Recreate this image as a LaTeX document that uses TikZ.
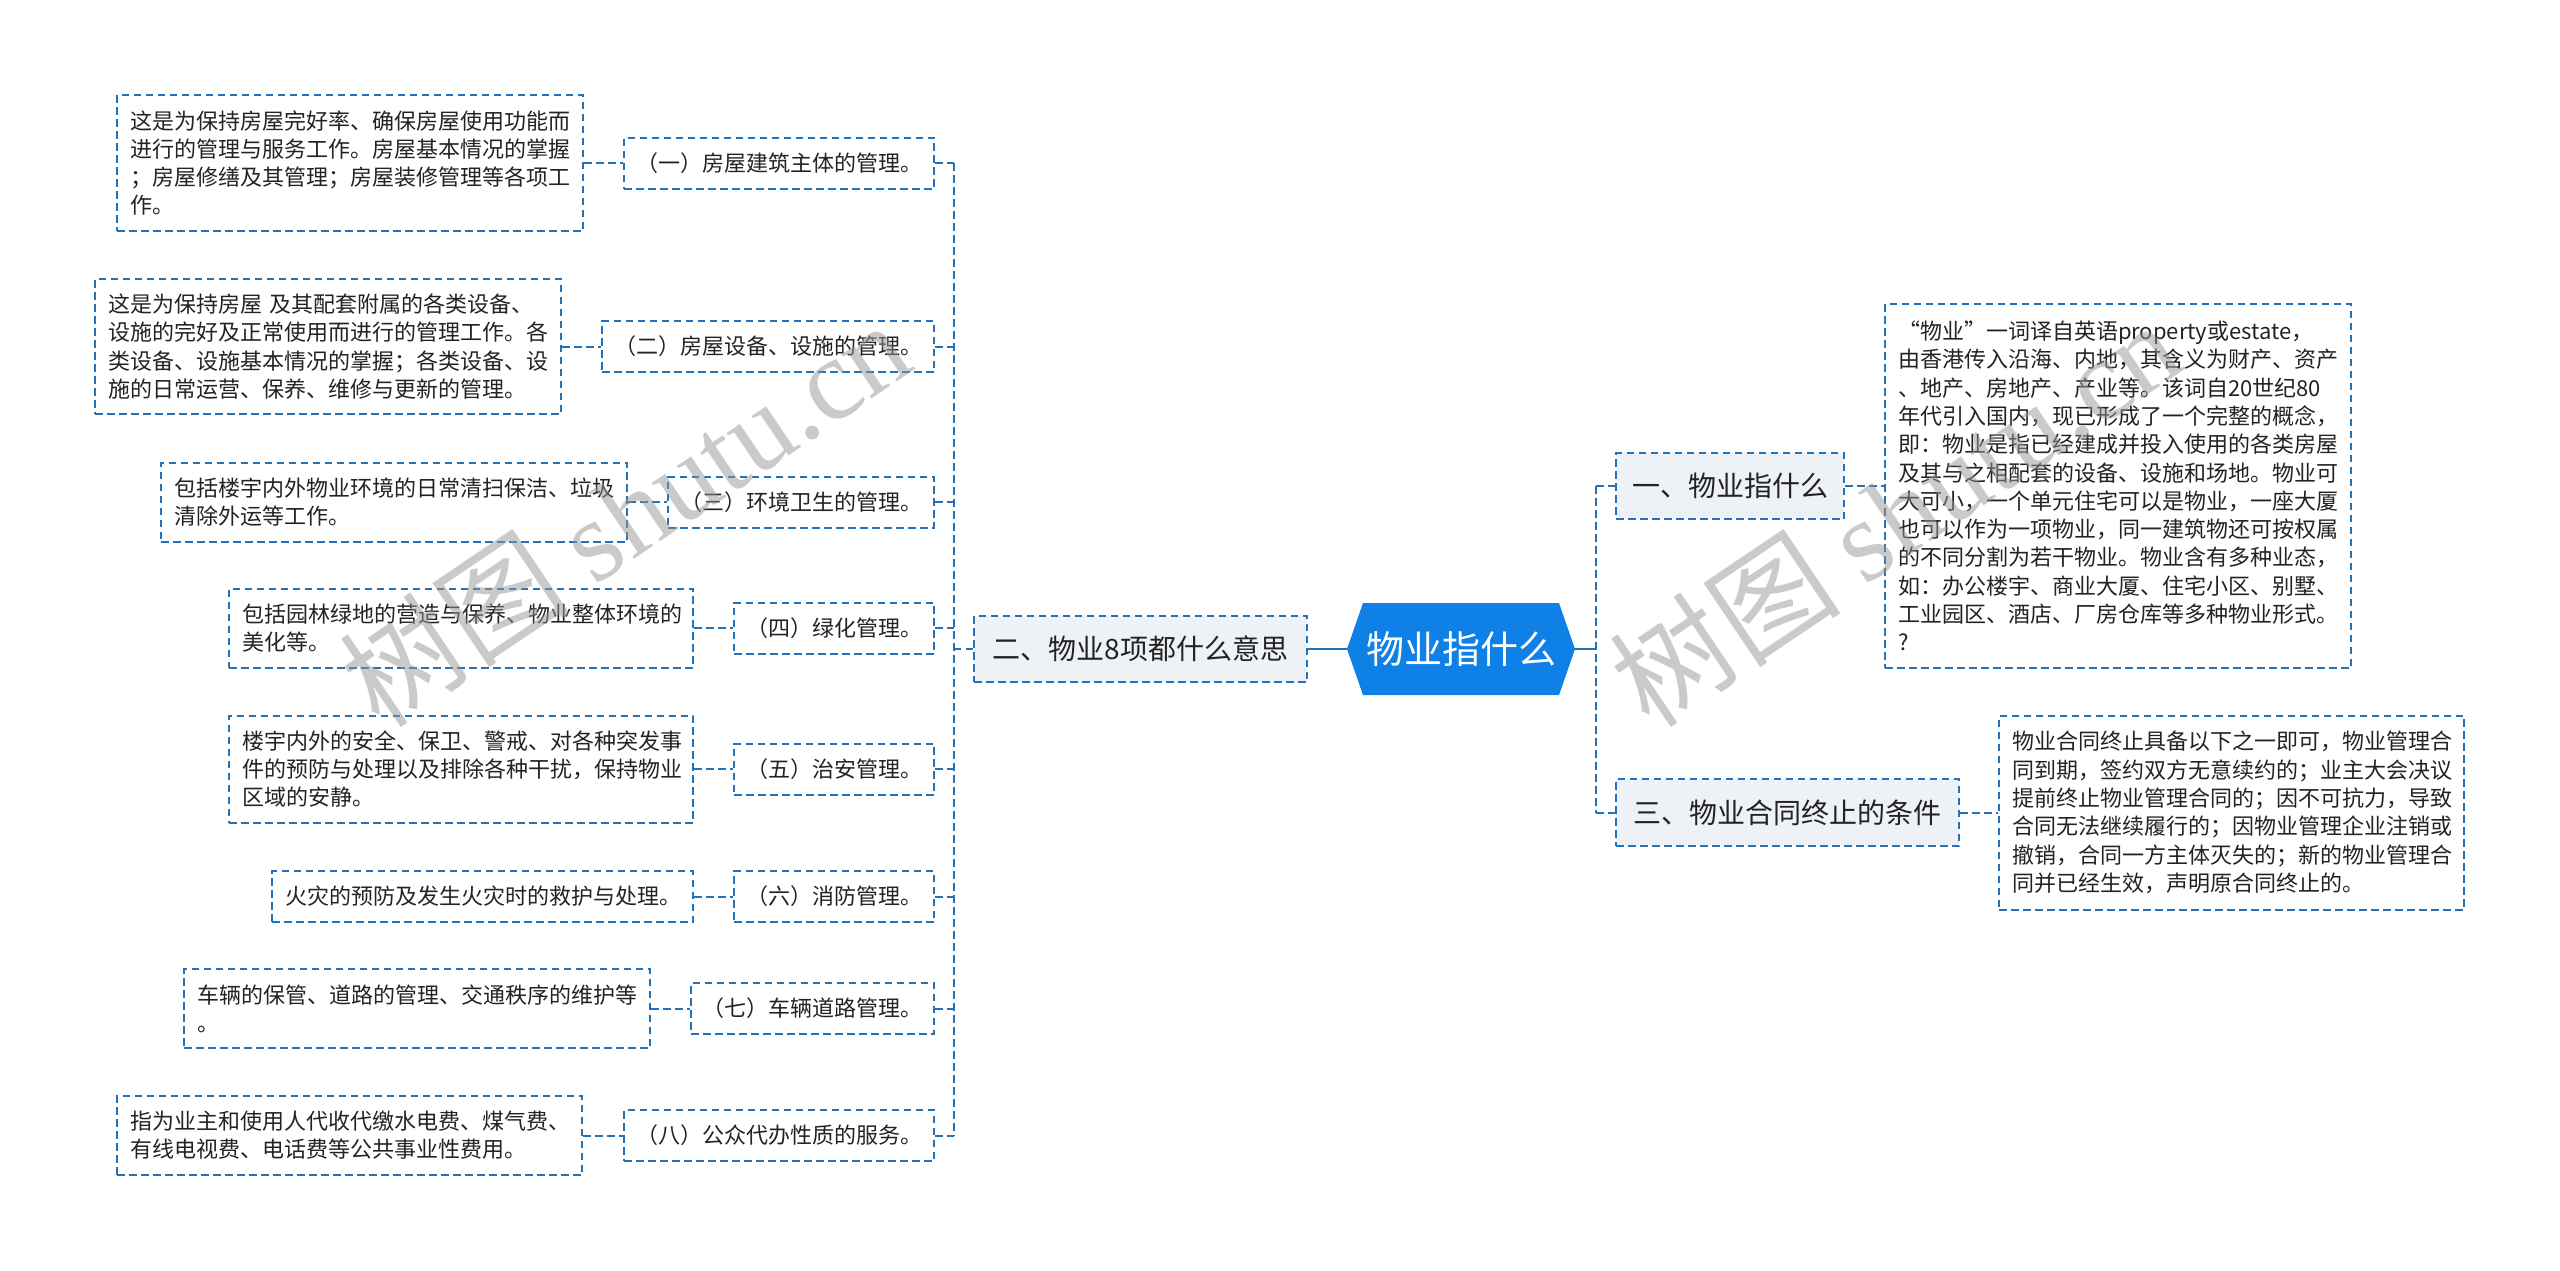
\documentclass[tikz,border=0pt]{standalone}
\usepackage{fontspec}
\setmainfont{Noto Sans CJK SC}
\newfontfamily\wmlatin{Liberation Serif}
\usetikzlibrary{calc}
\definecolor{bord}{RGB}{35,114,186}
\definecolor{hexblue}{RGB}{15,128,230}
\definecolor{lvfill}{RGB}{238,241,245}
\definecolor{txt}{RGB}{35,35,35}
\definecolor{wmgray}{RGB}{150,150,150}
\begin{document}
\begin{tikzpicture}[x=1pt,y=-1pt,
  dsh/.style={draw=bord,line width=2pt,dash pattern=on 7.5pt off 4.5pt},
  detail/.style={dsh,fill=white,text=txt,inner xsep=13pt,inner ysep=0pt,align=left,font=\fontsize{22pt}{28.3pt}\selectfont},
  item/.style={dsh,fill=white,text=txt,inner xsep=4pt,inner ysep=0pt,minimum height=51pt,font=\fontsize{22pt}{28.3pt}\selectfont},
  lvone/.style={dsh,fill=lvfill,text=txt,inner sep=0pt,font=\fontsize{28pt}{32pt}\selectfont},
  conn/.style={dsh},
  solidconn/.style={draw=bord,line width=2.5pt},
  wm/.style={text=wmgray,opacity=0.5,font=\fontsize{116pt}{124pt}\selectfont,inner sep=0pt}
]
\fill[white] (0,0) rectangle (2560,1270);
\useasboundingbox (0,0) rectangle (2560,1270);

% left detail boxes
\node[detail,text width=440pt,minimum height=136pt] (d1) at (350,163) {这是为保持房屋完好率、确保房屋使用功能而\\进行的管理与服务工作。房屋基本情况的掌握\\；房屋修缮及其管理；房屋装修管理等各项工\\作。};
\node[detail,text width=440pt,minimum height=135pt] (d2) at (328,346.5) {这是为保持房屋 及其配套附属的各类设备、\\设施的完好及正常使用而进行的管理工作。各\\类设备、设施基本情况的掌握；各类设备、设\\施的日常运营、保养、维修与更新的管理。};
\node[detail,text width=440pt,minimum height=79pt] (d3) at (394,502) {包括楼宇内外物业环境的日常清扫保洁、垃圾\\清除外运等工作。};
\node[detail,text width=438pt,minimum height=79pt] (d4) at (461,628) {包括园林绿地的营造与保养、物业整体环境的\\美化等。};
\node[detail,text width=438pt,minimum height=107pt] (d5) at (461,769) {楼宇内外的安全、保卫、警戒、对各种突发事\\件的预防与处理以及排除各种干扰，保持物业\\区域的安静。};
\node[detail,text width=395pt,minimum height=51pt] (d6) at (482.5,896.5) {火灾的预防及发生火灾时的救护与处理。};
\node[detail,text width=440pt,minimum height=79pt] (d7) at (417,1008.5) {车辆的保管、道路的管理、交通秩序的维护等\\。};
\node[detail,text width=439pt,minimum height=79pt] (d8) at (349.5,1135.5) {指为业主和使用人代收代缴水电费、煤气费、\\有线电视费、电话费等公共事业性费用。};

% left items
\node[item,minimum width=310pt] (i1) at (779,163) {（一）房屋建筑主体的管理。};
\node[item,minimum width=332pt] (i2) at (768,346.5) {（二）房屋设备、设施的管理。};
\node[item,minimum width=266pt] (i3) at (801,502) {（三）环境卫生的管理。};
\node[item,minimum width=200pt] (i4) at (834,628) {（四）绿化管理。};
\node[item,minimum width=200pt] (i5) at (834,769) {（五）治安管理。};
\node[item,minimum width=200pt] (i6) at (834,896.5) {（六）消防管理。};
\node[item,minimum width=243pt] (i7) at (812.5,1008.5) {（七）车辆道路管理。};
\node[item,minimum width=310pt] (i8) at (779,1135.5) {（八）公众代办性质的服务。};

% level one
\node[lvone,minimum width=333pt,minimum height=66pt] (L2) at (1140.5,649) {二、物业8项都什么意思};
\node[lvone,minimum width=228pt,minimum height=66pt] (R1L) at (1730,486) {一、物业指什么};
\node[lvone,minimum width=343pt,minimum height=67pt] (R3L) at (1787.5,812.5) {三、物业合同终止的条件};

% central hexagon
\fill[hexblue] (1347,649) -- (1363,603) -- (1559,603) -- (1575,649) -- (1559,695) -- (1363,695) -- cycle;
\node[inner sep=0pt,minimum width=228pt,minimum height=92pt,text=white,font=\fontsize{38pt}{40pt}\selectfont] (hex) at (1461,649) {物业指什么};

% right details
\node[detail,text width=440pt,minimum height=364pt] (R1D) at (2118,486) {“物业”一词译自英语property或estate，\\由香港传入沿海、内地，其含义为财产、资产\\、地产、房地产、产业等。该词自20世纪80\\年代引入国内，现已形成了一个完整的概念，\\即：物业是指已经建成并投入使用的各类房屋\\及其与之相配套的设备、设施和场地。物业可\\大可小，一个单元住宅可以是物业，一座大厦\\也可以作为一项物业，同一建筑物还可按权属\\的不同分割为若干物业。物业含有多种业态，\\如：办公楼宇、商业大厦、住宅小区、别墅、\\工业园区、酒店、厂房仓库等多种物业形式。\\?};
\node[detail,text width=439pt,minimum height=194pt] (R3D) at (2231.5,812.5) {物业合同终止具备以下之一即可，物业管理合\\同到期，签约双方无意续约的；业主大会决议\\提前终止物业管理合同的；因不可抗力，导致\\合同无法继续履行的；因物业管理企业注销或\\撤销，合同一方主体灭失的；新的物业管理合\\同并已经生效，声明原合同终止的。};

% connectors
\coordinate (ls) at (954,649);
\coordinate (rs) at (1596,649);
\foreach \i in {1,...,8} {
  \draw[conn] (d\i) -- (i\i);
  \draw[conn] (i\i.east) -- (ls |- i\i);
}
\draw[conn] (ls |- i1) -- (ls |- i8);
\draw[conn] (L2.west) -- (ls);
\draw[solidconn] (hex.west) -- (L2.east);
\draw[solidconn] (hex.east) -- (rs);
\draw[conn] (rs |- R1L) -- (rs |- R3L);
\draw[conn] (rs |- R1L) -- (R1L.west);
\draw[conn] (rs |- R3L) -- (R3L.west);
\draw[conn] (R1L) -- (R1D);
\draw[conn] (R3L) -- (R3D);

% watermarks
\node[wm,rotate=34,anchor=west] (wmL) at (356,694) {树图 {\wmlatin shutu.cn}};
\node[wm,rotate=34,anchor=west] (wmR) at (1626,694) {树图 {\wmlatin shutu.cn}};
\end{tikzpicture}
\end{document}
